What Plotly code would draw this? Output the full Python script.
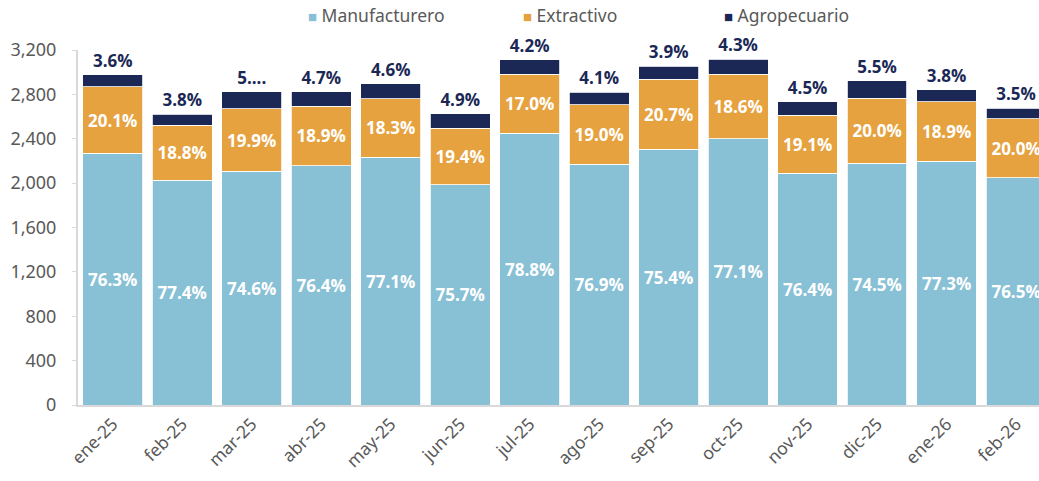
import plotly.graph_objects as go

# Monthly totals and sector shares (%)
months = ["ene-25", "feb-25", "mar-25", "abr-25", "may-25", "jun-25", "jul-25",
          "ago-25", "sep-25", "oct-25", "nov-25", "dic-25", "ene-26", "feb-26"]
totals = [2975, 2620, 2825, 2825, 2895, 2625, 3110,
          2820, 3055, 3115, 2735, 2925, 2840, 2675]
share_manuf = [76.3, 77.4, 74.6, 76.4, 77.1, 75.7, 78.8,
               76.9, 75.4, 77.1, 76.4, 74.5, 77.3, 76.5]
share_extr = [20.1, 18.8, 19.9, 18.9, 18.3, 19.4, 17.0,
              19.0, 20.7, 18.6, 19.1, 20.0, 18.9, 20.0]
share_agro = [3.6, 3.8, 5.5, 4.7, 4.6, 4.9, 4.2,
              4.1, 3.9, 4.3, 4.5, 5.5, 3.8, 3.5]
# labels above the stack (one of them is shown truncated)
agro_labels = ["3.6%", "3.8%", "5....", "4.7%", "4.6%", "4.9%", "4.2%",
               "4.1%", "3.9%", "4.3%", "4.5%", "5.5%", "3.8%", "3.5%"]

series_names = ["Manufacturero", "Extractivo", "Agropecuario"]
C_MANUF = "#88C0D5"
C_EXTR = "#E6A23F"
C_AGRO = "#1B2855"
GREY = "#595959"
LABEL_FONT = "Open Sans"
TICK_FONT = "Noto Sans"


def seg(share):
    return [t * s / 100 for t, s in zip(totals, share)]


fig = go.Figure()
fig.add_trace(go.Bar(
    x=months, y=seg(share_manuf), name=series_names[0],
    marker=dict(color=C_MANUF, line=dict(color="white", width=0.8)),
    text=[f"{v:.1f}%" for v in share_manuf], textposition="inside",
    insidetextanchor="middle",
    textfont=dict(family=LABEL_FONT, size=17, color="white", weight="bold"),
))
fig.add_trace(go.Bar(
    x=months, y=seg(share_extr), name=series_names[1],
    marker=dict(color=C_EXTR, line=dict(color="white", width=0.8)),
    text=[f"{v:.1f}%" for v in share_extr], textposition="inside",
    insidetextanchor="middle",
    textfont=dict(family=LABEL_FONT, size=17, color="white", weight="bold"),
))
fig.add_trace(go.Bar(
    x=months, y=seg(share_agro), name=series_names[2],
    marker=dict(color=C_AGRO, line=dict(color="white", width=0.8)),
    text=agro_labels, textposition="outside", cliponaxis=False,
    textfont=dict(family=LABEL_FONT, size=17, color=C_AGRO, weight="bold"),
))

# legend row: coloured square + series name
legend_x = [0.2373, 0.461, 0.670]
for name, color, lx in zip(series_names, [C_MANUF, C_EXTR, C_AGRO], legend_x):
    fig.add_annotation(
        xref="paper", yref="paper", x=lx, y=1.098, xanchor="left", yanchor="middle",
        text=f"<span style='color:{color};font-size:15px'>■</span> {name}",
        showarrow=False, font=dict(family=TICK_FONT, size=17.5, color=GREY),
    )

fig.update_layout(
    width=1039, height=481,
    barmode="stack", bargap=0.14,
    plot_bgcolor="white", paper_bgcolor="white",
    margin=dict(l=78, r=0, t=50, b=76),
    font=dict(family=TICK_FONT, color=GREY, size=17),
    showlegend=False,
)
fig.update_xaxes(
    range=[-0.5, 13.33], showline=True, linecolor="#D9D9D9", linewidth=2,
    tickangle=-45, ticks="", tickfont=dict(size=17.5, color=GREY), showgrid=False,
)
fig.update_yaxes(
    range=[0, 3200], dtick=400, tickformat=",", showgrid=False,
    showline=True, linecolor="#D9D9D9", linewidth=2,
    ticks="outside", ticklen=4, tickcolor="#D9D9D9", ticklabelstandoff=12,
    tickfont=dict(size=18, color=GREY), zeroline=False,
)

fig.write_html("out.html")
